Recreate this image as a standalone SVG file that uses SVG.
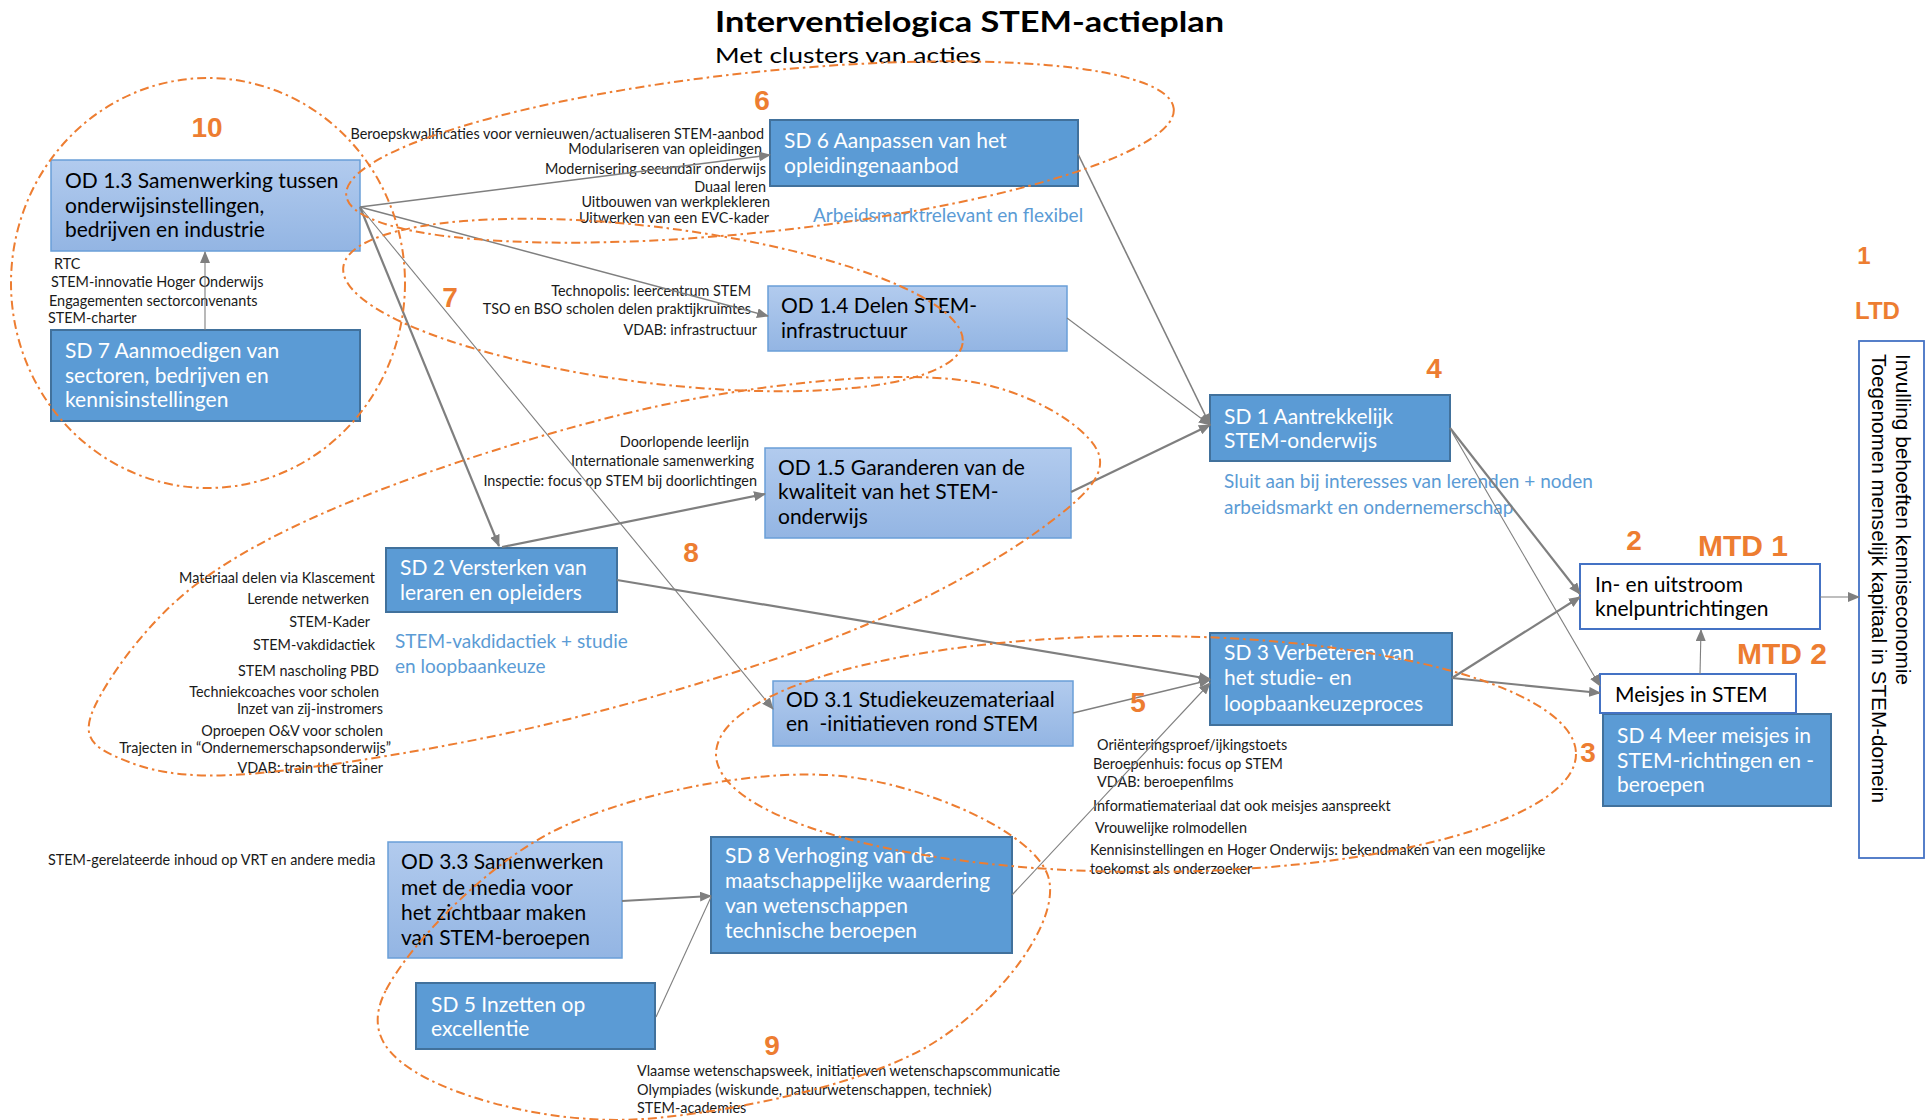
<svg xmlns="http://www.w3.org/2000/svg" width="1932" height="1120" viewBox="0 0 1932 1120">
<style>
  text { font-family: Lato, "Liberation Sans", sans-serif; }
  .bt { font-size: 21px; }
  .w { fill: #ffffff; }
  .k { fill: #000000; }
  .lbl { font-size: 14.4px; fill: #1a1a1a; }
  .end { text-anchor: end; }
  .blue { font-size: 19px; fill: #5B9BD5; }
  .num { font-family: "Liberation Sans", Arial, sans-serif; font-weight: bold; font-size: 28px; fill: #ED7D31; text-anchor: middle; }
  .mtd { font-family: "Liberation Sans", Arial, sans-serif; font-weight: bold; font-size: 30px; fill: #ED7D31; }
  .ltd { font-family: "Liberation Sans", Arial, sans-serif; font-weight: bold; font-size: 24px; fill: #ED7D31; }
  .goal { font-family: "Liberation Sans", Arial, sans-serif; font-size: 20.6px; fill: #000000; }
  .dark { fill: #5B9BD5; stroke: #41719C; stroke-width: 2; }
  .light { fill: url(#lightGrad); stroke: #6A9FD8; stroke-width: 1.5; }
  .outline { fill: #ffffff; stroke: #4472C4; stroke-width: 2; }
  .cl { fill: none; stroke: #ED7D31; stroke-width: 2; stroke-dasharray: 9 4 2.5 4; }
  .c { fill: none; stroke: #7F7F7F; }
  .thick { stroke-width: 2.2; }
  .thin { stroke-width: 1.1; }
</style>
<defs>
  <linearGradient id="lightGrad" x1="0" y1="0" x2="0" y2="1">
    <stop offset="0" stop-color="#B2CBEE"/>
    <stop offset="1" stop-color="#93B5E3"/>
  </linearGradient>
  <marker id="ah" viewBox="0 0 12 10" refX="11" refY="5" markerWidth="12" markerHeight="10" markerUnits="userSpaceOnUse" orient="auto">
    <path d="M0,0 L12,5 L0,10 z" fill="#7F7F7F"/>
  </marker>
</defs>

<rect width="1932" height="1120" fill="#ffffff"/>

<!-- title -->
<g id="title">
  <text x="715" y="32" font-size="28" font-weight="bold" textLength="509" lengthAdjust="spacingAndGlyphs">Interventielogica STEM-actieplan</text>
  <text x="715" y="63" font-size="21.5" textLength="266" lengthAdjust="spacingAndGlyphs">Met clusters van acties</text>
</g>

<!-- nodes -->
<g id="od13">
  <rect class="light" x="51" y="160" width="309" height="91"/>
  <text class="bt k" x="65" y="188">OD 1.3 Samenwerking tussen</text>
  <text class="bt k" x="65" y="213">onderwijsinstellingen,</text>
  <text class="bt k" x="65" y="237">bedrijven en industrie</text>
</g>
<g id="sd7">
  <rect class="dark" x="51" y="330" width="309" height="91"/>
  <text class="bt w" x="65" y="358">SD 7 Aanmoedigen van</text>
  <text class="bt w" x="65" y="383">sectoren, bedrijven en</text>
  <text class="bt w" x="65" y="407">kennisinstellingen</text>
</g>
<g id="sd6">
  <rect class="dark" x="770" y="120" width="308" height="66"/>
  <text class="bt w" x="784" y="148">SD 6 Aanpassen van het</text>
  <text class="bt w" x="784" y="173">opleidingenaanbod</text>
</g>
<g id="od14">
  <rect class="light" x="768" y="286" width="299" height="65"/>
  <text class="bt k" x="781" y="313">OD 1.4 Delen STEM-</text>
  <text class="bt k" x="781" y="338">infrastructuur</text>
</g>
<g id="od15">
  <rect class="light" x="765" y="448" width="306" height="90"/>
  <text class="bt k" x="778" y="475">OD 1.5 Garanderen van de</text>
  <text class="bt k" x="778" y="499">kwaliteit van het STEM-</text>
  <text class="bt k" x="778" y="524">onderwijs</text>
</g>
<g id="sd2">
  <rect class="dark" x="386" y="548" width="231" height="64"/>
  <text class="bt w" x="400" y="575">SD 2 Versterken van</text>
  <text class="bt w" x="400" y="600">leraren en opleiders</text>
</g>
<g id="od31">
  <rect class="light" x="773" y="681" width="300" height="65"/>
  <text class="bt k" x="786" y="707">OD 3.1 Studiekeuzemateriaal</text>
  <text class="bt k" x="786" y="731" xml:space="preserve">en  -initiatieven rond STEM</text>
</g>
<g id="sd1">
  <rect class="dark" x="1210" y="395" width="240" height="66"/>
  <text class="bt w" x="1224" y="424">SD 1 Aantrekkelijk</text>
  <text class="bt w" x="1224" y="448">STEM-onderwijs</text>
</g>
<g id="sd3">
  <rect class="dark" x="1210" y="633" width="242" height="92"/>
  <text class="bt w" x="1224" y="660">SD 3 Verbeteren van</text>
  <text class="bt w" x="1224" y="685">het studie- en</text>
  <text class="bt w" x="1224" y="711">loopbaankeuzeproces</text>
</g>
<g id="sd8">
  <rect class="dark" x="711" y="837" width="301" height="116"/>
  <text class="bt w" x="725" y="863">SD 8 Verhoging van de</text>
  <text class="bt w" x="725" y="888">maatschappelijke waardering</text>
  <text class="bt w" x="725" y="913">van wetenschappen</text>
  <text class="bt w" x="725" y="938">technische beroepen</text>
</g>
<g id="od33">
  <rect class="light" x="388" y="842" width="234" height="116"/>
  <text class="bt k" x="401" y="869">OD 3.3 Samenwerken</text>
  <text class="bt k" x="401" y="895">met de media voor</text>
  <text class="bt k" x="401" y="920">het zichtbaar maken</text>
  <text class="bt k" x="401" y="945">van STEM-beroepen</text>
</g>
<g id="sd5">
  <rect class="dark" x="416" y="983" width="239" height="66"/>
  <text class="bt w" x="431" y="1012">SD 5 Inzetten op</text>
  <text class="bt w" x="431" y="1036">excellentie</text>
</g>
<g id="sd4">
  <rect class="dark" x="1603" y="714" width="228" height="92"/>
  <text class="bt w" x="1617" y="743">SD 4 Meer meisjes in</text>
  <text class="bt w" x="1617" y="768">STEM-richtingen en -</text>
  <text class="bt w" x="1617" y="792">beroepen</text>
</g>
<g id="mtd1">
  <rect class="outline" x="1580" y="564" width="240" height="65"/>
  <text class="bt k" x="1595" y="592">In- en uitstroom</text>
  <text class="bt k" x="1595" y="616">knelpuntrichtingen</text>
</g>
<g id="mtd2">
  <rect class="outline" x="1600" y="674" width="196" height="39"/>
  <text class="bt k" x="1615" y="702">Meisjes in STEM</text>
</g>
<g id="ltd">
  <rect x="1859" y="341" width="65" height="517" fill="#ffffff" stroke="#4472C4" stroke-width="1.8"/>
  <text class="goal" transform="translate(1896 354) rotate(90)" textLength="331" lengthAdjust="spacingAndGlyphs">Invulling behoeften kenniseconomie</text>
  <text class="goal" transform="translate(1872 354) rotate(90)" textLength="449" lengthAdjust="spacingAndGlyphs">Toegenomen menselijk kapitaal in STEM-domein</text>
</g>

<!-- action labels -->
<g id="labels">
  <text class="lbl" x="54" y="269">RTC</text>
  <text class="lbl" x="51" y="287">STEM-innovatie Hoger Onderwijs</text>
  <text class="lbl" x="49" y="306">Engagementen sectorconvenants</text>
  <text class="lbl" x="48" y="323">STEM-charter</text>

  <text class="lbl end" x="764" y="139">Beroepskwalificaties voor vernieuwen/actualiseren STEM-aanbod</text>
  <text class="lbl end" x="762" y="154">Modulariseren van opleidingen</text>
  <text class="lbl end" x="766" y="174">Modernisering secundair onderwijs</text>
  <text class="lbl end" x="766" y="192">Duaal leren</text>
  <text class="lbl end" x="770" y="207">Uitbouwen van werkplekleren</text>
  <text class="lbl end" x="769" y="223">Uitwerken van een EVC-kader</text>

  <text class="lbl end" x="751" y="296">Technopolis: leercentrum STEM</text>
  <text class="lbl end" x="751" y="314">TSO en BSO scholen delen praktijkruimtes</text>
  <text class="lbl end" x="757" y="335">VDAB: infrastructuur</text>

  <text class="lbl end" x="749" y="447">Doorlopende leerlijn</text>
  <text class="lbl end" x="754" y="466">Internationale samenwerking</text>
  <text class="lbl end" x="757" y="486">Inspectie: focus op STEM bij doorlichtingen</text>

  <text class="lbl end" x="375" y="583">Materiaal delen via Klascement</text>
  <text class="lbl end" x="369" y="604">Lerende netwerken</text>
  <text class="lbl end" x="370" y="627">STEM-Kader</text>
  <text class="lbl end" x="375" y="650">STEM-vakdidactiek</text>
  <text class="lbl end" x="379" y="676">STEM nascholing PBD</text>
  <text class="lbl end" x="379" y="697">Techniekcoaches voor scholen</text>
  <text class="lbl end" x="383" y="714">Inzet van zij-instromers</text>
  <text class="lbl end" x="383" y="736">Oproepen O&amp;V voor scholen</text>
  <text class="lbl end" x="391" y="753">Trajecten in “Ondernemerschapsonderwijs”</text>
  <text class="lbl end" x="383" y="773">VDAB: train the trainer</text>

  <text class="lbl" x="1097" y="750">Oriënteringsproef/ijkingstoets</text>
  <text class="lbl" x="1093" y="769">Beroepenhuis: focus op STEM</text>
  <text class="lbl" x="1097" y="787">VDAB: beroepenfilms</text>
  <text class="lbl" x="1093" y="811">Informatiemateriaal dat ook meisjes aanspreekt</text>
  <text class="lbl" x="1095" y="833">Vrouwelijke rolmodellen</text>
  <text class="lbl" x="1090" y="855">Kennisinstellingen en Hoger Onderwijs: bekendmaken van een mogelijke</text>
  <text class="lbl" x="1090" y="874">toekomst als onderzoeker</text>

  <text class="lbl" x="48" y="865">STEM-gerelateerde inhoud op VRT en andere media</text>

  <text class="lbl" x="637" y="1076">Vlaamse wetenschapsweek, initiatieven wetenschapscommunicatie</text>
  <text class="lbl" x="637" y="1095">Olympiades (wiskunde, natuurwetenschappen, techniek)</text>
  <text class="lbl" x="637" y="1113">STEM-academies</text>

  <text class="blue" x="813" y="222">Arbeidsmarktrelevant en flexibel</text>
  <text class="blue" x="1224" y="488">Sluit aan bij interesses van lerenden + noden</text>
  <text class="blue" x="1224" y="514">arbeidsmarkt en ondernemerschap</text>
  <text class="blue" x="395" y="648">STEM-vakdidactiek + studie</text>
  <text class="blue" x="395" y="673">en loopbaankeuze</text>
</g>

<!-- connectors -->
<g id="connectors">
  <line class="c thin" x1="205" y1="330" x2="205" y2="252" marker-end="url(#ah)"/>
  <line class="c" x1="360" y1="207" x2="770" y2="155" marker-end="url(#ah)" stroke-width="1.5"/>
  <line class="c" x1="360" y1="207" x2="768" y2="316" marker-end="url(#ah)" stroke-width="1.5"/>
  <line class="c thick" x1="360" y1="207" x2="499" y2="546" marker-end="url(#ah)"/>
  <line class="c thin" x1="360" y1="207" x2="773" y2="709" marker-end="url(#ah)"/>
  <line class="c thick" x1="502" y1="547" x2="765" y2="494" marker-end="url(#ah)"/>
  <line class="c thick" x1="617" y1="580" x2="1210" y2="679" marker-end="url(#ah)"/>
  <line class="c" x1="1073" y1="713" x2="1210" y2="680" stroke="#303030" stroke-width="1.3" marker-end="url(#ah)"/>
  <line class="c thin" x1="1012" y1="895" x2="1210" y2="683" marker-end="url(#ah)"/>
  <line class="c thick" x1="622" y1="901" x2="711" y2="896" marker-end="url(#ah)"/>
  <line class="c thin" x1="656" y1="1017" x2="711" y2="897"/>
  <line class="c" x1="1078" y1="154" x2="1210" y2="425" stroke-width="1.6" marker-end="url(#ah)"/>
  <line class="c thin" x1="1067" y1="318" x2="1210" y2="425" marker-end="url(#ah)"/>
  <line class="c thick" x1="1071" y1="492" x2="1210" y2="425" marker-end="url(#ah)"/>
  <line class="c thick" x1="1450" y1="428" x2="1580" y2="594" marker-end="url(#ah)"/>
  <line class="c thin" x1="1452" y1="432" x2="1600" y2="686" marker-end="url(#ah)"/>
  <line class="c thick" x1="1452" y1="678" x2="1580" y2="597" marker-end="url(#ah)"/>
  <line class="c thick" x1="1452" y1="678" x2="1600" y2="693" marker-end="url(#ah)"/>
  <line class="c thin" x1="1700" y1="674" x2="1701" y2="630" marker-end="url(#ah)"/>
  <line class="c thin" x1="1820" y1="597" x2="1859" y2="597" marker-end="url(#ah)"/>
</g>

<!-- action clusters -->
<g id="clusters">
  <ellipse class="cl" cx="208" cy="283" rx="197" ry="205"/>
  <ellipse class="cl" cx="760" cy="152" rx="416" ry="80" transform="rotate(-6 760 152)"/>
  <ellipse class="cl" cx="653" cy="305" rx="312" ry="78" transform="rotate(7 653 305)"/>
  <path class="cl" d="M94,708 C107.2,678.8 147.7,620.3 198,583 C248.3,545.7 313.5,514.7 396,484 C478.5,453.3 599,416.3 693,399 C787,381.7 892.7,371.5 960,380 C1027.3,388.5 1084,424.8 1097,450 C1110,475.2 1080.7,500.2 1038,531 C995.3,561.8 923.3,602.7 841,635 C758.7,667.3 642.8,701.8 544,725 C445.2,748.2 318.8,768.5 248,774 C177.2,779.5 144.7,769 119,758 C93.3,747 80.8,737.2 94,708 Z"/>
  <ellipse class="cl" cx="1146" cy="754" rx="430" ry="118"/>
  <path class="cl" d="M386,990 C407.7,948 484.2,863.7 560,828 C635.8,792.3 759.7,768 841,776 C922.3,784 1033.2,831.2 1048,876 C1062.8,920.8 997.5,1004.5 930,1045 C862.5,1085.5 726.3,1113.2 643,1119 C559.7,1124.8 472.8,1101.5 430,1080 C387.2,1058.5 364.3,1032 386,990 Z"/>
</g>

<!-- cluster numbers and goal levels -->
<g id="numbers">
  <text class="num" x="207" y="137">10</text>
  <text class="num" x="762" y="110">6</text>
  <text class="num" x="450" y="307">7</text>
  <text class="num" x="691" y="562">8</text>
  <text class="num" x="1434" y="378">4</text>
  <text class="num" x="1634" y="550">2</text>
  <text class="num" x="1138" y="712">5</text>
  <text class="num" x="1588" y="762">3</text>
  <text class="num" x="772" y="1055">9</text>
  <text class="mtd" x="1698" y="556">MTD 1</text>
  <text class="mtd" x="1737" y="664">MTD 2</text>
  <text class="ltd" x="1864" y="264" text-anchor="middle">1</text>
  <text class="ltd" x="1855" y="319">LTD</text>
</g>
</svg>
